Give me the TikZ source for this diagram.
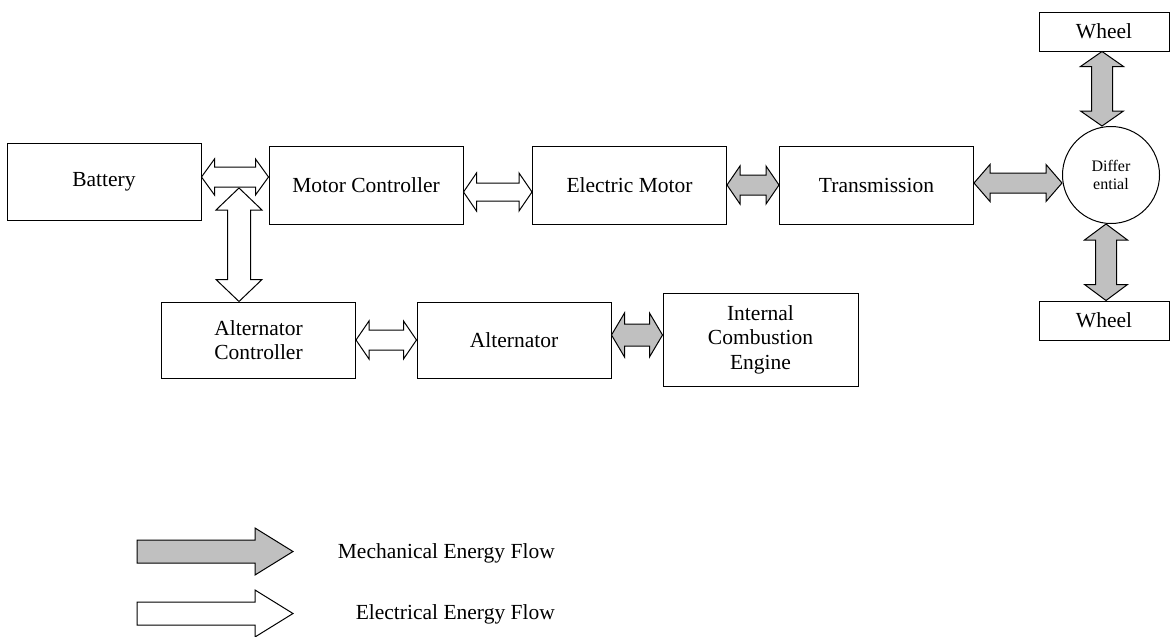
\documentclass[tikz,border=0pt]{standalone}
\usepackage{fontspec}
\setmainfont{Liberation Serif}
\usepackage{xcolor}
\usetikzlibrary{calc}
\definecolor{mechgray}{RGB}{192,192,192}

% fat two-headed flow arrows: style, from, to, shaft half, head half, head length
\newcommand{\hflow}[6]{%
  \draw[#1] let \p1=#2, \p2=#3 in
    (\x1,\y1) -- (\x1+#6,\y1+#5) -- (\x1+#6,\y1+#4) -- (\x2-#6,\y1+#4) -- (\x2-#6,\y1+#5) -- (\x2,\y1)
    -- (\x2-#6,\y1-#5) -- (\x2-#6,\y1-#4) -- (\x1+#6,\y1-#4) -- (\x1+#6,\y1-#5) -- cycle;}
\newcommand{\vflow}[6]{%
  \draw[#1] let \p1=#2, \p2=#3 in
    (\x1,\y1) -- (\x1+#5,\y1-#6) -- (\x1+#4,\y1-#6) -- (\x1+#4,\y2+#6) -- (\x1+#5,\y2+#6) -- (\x1,\y2)
    -- (\x1-#5,\y2+#6) -- (\x1-#4,\y2+#6) -- (\x1-#4,\y1-#6) -- (\x1-#5,\y1-#6) -- cycle;}

\begin{document}
\begin{tikzpicture}[x=1pt,y=-1pt,
        box/.style={rectangle,draw,line width=1pt,inner sep=0pt,align=center,
          minimum width=194pt,minimum height=78pt,font=\fontsize{21.5}{24.5}\selectfont},
        wheelbox/.style={box,minimum width=130pt,minimum height=39pt},
        diffnode/.style={circle,draw,line width=1pt,inner sep=0pt,minimum size=97pt,
          align=center,font=\fontsize{16}{18}\selectfont},
        mech/.style={draw,line width=1pt,fill=mechgray},
        elec/.style={draw,line width=1pt,fill=white},
        legendtext/.style={anchor=base east,inner sep=0pt,font=\fontsize{21.5}{24.5}\selectfont}]
        \useasboundingbox (0,0) rectangle (1170,637);
        % upper row
        \node[box,minimum height=77pt] (bat) at (104,181.5) {Battery};
        \node[box] (mc) at (366,185) {Motor Controller};
        \node[box] (em) at (629.5,185) {Electric Motor};
        \node[box] (tr) at (876.5,185) {Transmission};
        \node[diffnode] (diff) at (1111,175) {Differ\\ential};
        \node[wheelbox] (wt) at (1104,31.5) {Wheel};
        \node[wheelbox] (wb) at (1104,320.5) {Wheel};
        % lower row
        \node[box,minimum height=76pt] (ac) at (258.5,340) {Alternator\\Controller};
        \node[box,minimum height=76pt] (alt) at (514,340) {Alternator};
        \node[box,minimum width=195pt,minimum height=93pt] (ice) at (760.5,339.5) {Internal\\Combustion\\Engine};
        \coordinate (jn) at (239,188);
        % flows
        \hflow{elec}{([yshift=4.5pt]bat.east)}{(mc.west)}{10pt}{18pt}{13pt}
        \vflow{elec}{(jn)}{(ac.north)}{11.5pt}{23pt}{22pt}
        \hflow{elec}{([yshift=-7pt]mc.east)}{(em.west)}{9pt}{19pt}{13pt}
        \hflow{mech}{(em.east)}{(tr.west)}{10pt}{19pt}{13pt}
        \hflow{mech}{([yshift=2pt]tr.east)}{(diff.west)}{10pt}{18.5pt}{16pt}
        \vflow{mech}{([xshift=-2pt]wt.south)}{(diff.north)}{10.5pt}{21.5pt}{15pt}
        \vflow{mech}{([xshift=-5pt]diff.south)}{(wb.north)}{10.5pt}{21.5pt}{16pt}
        \hflow{elec}{(ac.east)}{(alt.west)}{10pt}{19pt}{13pt}
        \hflow{mech}{([yshift=5pt]alt.east)}{(ice.west)}{11pt}{22pt}{13pt}
        % legend
        \draw[mech] (137,540) -- (255,540) -- (255,528) -- (293,551.5) -- (255,575) -- (255,563) -- (137,563) -- cycle;
        \draw[elec] (137,602) -- (255,602) -- (255,590) -- (293,613.5) -- (255,637) -- (255,625) -- (137,625) -- cycle;
        \node[legendtext] (mechtxt) at (555,558) {Mechanical Energy Flow};
        \node[legendtext] (electxt) at (555,619) {Electrical Energy Flow};
      \end{tikzpicture}
\end{document}
